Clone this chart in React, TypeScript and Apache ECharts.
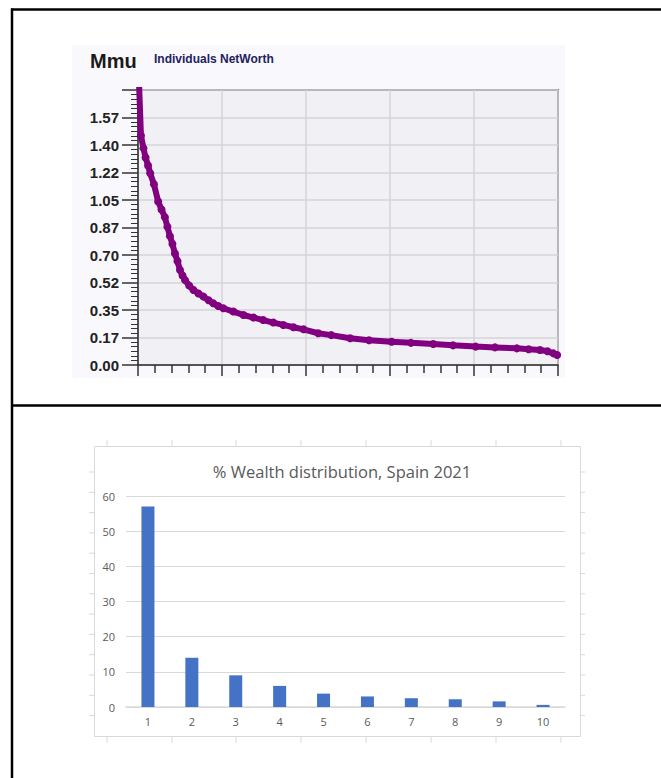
import React, { useEffect, useRef } from "react";
import * as echarts from "echarts";

// ---------- Top chart: Mmu Individuals NetWorth ----------
const netWorthX = [
  0.1, 0.7, 1.3, 1.8, 2.4, 2.9, 3.8, 4.8, 5.6, 6.4, 7.0, 7.6, 8.2, 8.8, 9.4, 10.0,
  10.6, 11.2, 12.2, 13.2, 14.4, 15.6, 16.8, 17.9, 19.1, 20.3, 22.7, 25.1, 27.5,
  29.8, 32.2, 34.6, 37.0, 39.4, 42.9, 46.0, 50.5, 55.0, 60.4, 65.0, 70.3, 75.0,
  80.4, 85.0, 90.2, 93.0, 95.7, 97.5, 98.9, 99.8,
];
const netWorthY = [
  1.9, 1.46, 1.38, 1.32, 1.27, 1.22, 1.15, 1.04, 0.99, 0.94, 0.88, 0.82, 0.77,
  0.71, 0.66, 0.605, 0.57, 0.54, 0.505, 0.477, 0.455, 0.435, 0.412, 0.393, 0.375,
  0.361, 0.34, 0.318, 0.302, 0.286, 0.27, 0.255, 0.24, 0.227, 0.202, 0.19, 0.17,
  0.158, 0.148, 0.141, 0.134, 0.125, 0.117, 0.112, 0.106, 0.1, 0.095, 0.087,
  0.074, 0.064,
];
const netWorthYTickLabels = [
  "0.00", "0.17", "0.35", "0.52", "0.70", "0.87", "1.05", "1.22", "1.40", "1.57", "",
];

// ---------- Bottom chart: % Wealth distribution, Spain 2021 ----------
const deciles = ["1", "2", "3", "4", "5", "6", "7", "8", "9", "10"];
const wealthShare = [57, 14, 9, 6, 3.8, 3, 2.5, 2.2, 1.6, 0.6];

export default function App() {
  const ref = useRef<HTMLDivElement>(null);

  useEffect(() => {
    if (!ref.current) return;
    const chart = echarts.init(ref.current, null, { renderer: "svg" });

    const handleLines: any[] = [];
    const hxs = [107, 172, 236, 301, 366, 431, 496, 561];
    hxs.forEach((x) => {
      handleLines.push({
        type: "line",
        z: -5,
        shape: { x1: x, y1: 440, x2: x, y2: 446 },
        style: { stroke: "#d9d9d9", lineWidth: 1 },
      });
      handleLines.push({
        type: "line",
        z: -5,
        shape: { x1: x, y1: 737, x2: x, y2: 743 },
        style: { stroke: "#d9d9d9", lineWidth: 1 },
      });
    });
    for (let i = 0; i < 13; i++) {
      const y = 472 + i * 20.3;
      handleLines.push({
        type: "line",
        z: -5,
        shape: { x1: 89, y1: y, x2: 94, y2: y },
        style: { stroke: "#d9d9d9", lineWidth: 1 },
      });
      handleLines.push({
        type: "line",
        z: -5,
        shape: { x1: 580, y1: y, x2: 585, y2: y },
        style: { stroke: "#d9d9d9", lineWidth: 1 },
      });
    }

    const option: any = {
      animation: false,
      backgroundColor: "#ffffff",
      title: [
        {
          text: "Mmu",
          left: 85,
          top: 46,
          textStyle: {
            fontFamily: "Liberation Sans",
            fontWeight: "bold",
            fontSize: 20,
            color: "#1a1a1a",
          },
        },
        {
          text: "Individuals NetWorth",
          left: 149,
          top: 48,
          textStyle: {
            fontFamily: "Liberation Sans",
            fontWeight: "bold",
            fontSize: 12,
            color: "#22225e",
          },
        },
        {
          text: "% Wealth distribution, Spain 2021",
          left: 337,
          top: 458,
          textAlign: "center",
          textStyle: {
            fontFamily: "Open Sans",
            fontWeight: "normal",
            fontSize: 16.5,
            color: "#595959",
          },
        },
      ],
      graphic: [
        {
          type: "rect",
          z: -10,
          shape: { x: 72, y: 45, width: 493, height: 333 },
          style: { fill: "#f9f9fd" },
        },
        {
          type: "rect",
          z: -10,
          shape: { x: 94.5, y: 446.5, width: 486, height: 290 },
          style: { fill: "#ffffff", stroke: "#d9d9d9", lineWidth: 1 },
        },
        ...handleLines,
        {
          type: "line",
          z: 10,
          shape: { x1: 12, y1: 8.5, x2: 12, y2: 778 },
          style: { stroke: "#000000", lineWidth: 2.5 },
        },
        {
          type: "line",
          z: 10,
          shape: { x1: 11, y1: 9.5, x2: 661, y2: 9.5 },
          style: { stroke: "#000000", lineWidth: 2.5 },
        },
        {
          type: "line",
          z: 10,
          shape: { x1: 11, y1: 405.5, x2: 661, y2: 405.5 },
          style: { stroke: "#000000", lineWidth: 2.5 },
        },
      ],
      grid: [
        {
          left: 138,
          right: 103,
          top: 90,
          bottom: 413,
          show: true,
          backgroundColor: "#f0f0f5",
          borderColor: "#333333",
          borderWidth: 1.5,
        },
        {
          left: 126,
          right: 96,
          top: 496,
          bottom: 71,
        },
      ],
      xAxis: [
        {
          type: "value",
          gridIndex: 0,
          min: 0,
          max: 100,
          interval: 20,
          axisLine: { show: true, lineStyle: { color: "#333333", width: 1.5 } },
          axisTick: { show: true, length: 11, lineStyle: { color: "#333333", width: 1.5 } },
          minorTick: { show: true, splitNumber: 5, length: 8, lineStyle: { color: "#333333", width: 1.5 } },
          axisLabel: { show: false },
          splitLine: { show: true, lineStyle: { color: "#d4d4d8", width: 1.5 } },
        },
        {
          type: "category",
          gridIndex: 1,
          data: deciles,
          axisLine: { show: true, lineStyle: { color: "#d9d9d9", width: 1.5 } },
          axisTick: { show: false },
          axisLabel: {
            color: "#595959",
            fontFamily: "Open Sans",
            fontSize: 11,
            margin: 9,
          },
          splitLine: { show: false },
        },
      ],
      yAxis: [
        {
          type: "value",
          gridIndex: 0,
          min: 0,
          max: 1.75,
          interval: 0.175,
          axisLine: { show: true, lineStyle: { color: "#333333", width: 1.5 } },
          axisTick: { show: true, length: 16, lineStyle: { color: "#333333", width: 1.5 } },
          minorTick: { show: true, splitNumber: 6, length: 7, lineStyle: { color: "#333333", width: 1 } },
          axisLabel: {
            margin: 19,
            color: "#222222",
            fontFamily: "Liberation Sans",
            fontWeight: "bold",
            fontSize: 15,
            formatter: (_v: number, i: number) => netWorthYTickLabels[i] ?? "",
          },
          splitLine: { show: true, lineStyle: { color: "#d4d4d8", width: 1.5 } },
        },
        {
          type: "value",
          gridIndex: 1,
          min: 0,
          max: 60,
          interval: 10,
          axisLine: { show: false },
          axisTick: { show: false },
          axisLabel: {
            color: "#595959",
            fontFamily: "Open Sans",
            fontSize: 11,
            margin: 11,
          },
          splitLine: { show: true, lineStyle: { color: "#d9d9d9", width: 1 } },
        },
      ],
      series: [
        {
          type: "line",
          xAxisIndex: 0,
          yAxisIndex: 0,
          data: netWorthX.map((x, i) => [x, netWorthY[i]]),
          symbol: "circle",
          symbolSize: 8,
          clip: true,
          itemStyle: { color: "#800080" },
          lineStyle: { color: "#800080", width: 6 },
        },
        {
          type: "bar",
          xAxisIndex: 1,
          yAxisIndex: 1,
          data: wealthShare,
          barWidth: 13,
          itemStyle: { color: "#4472c4" },
        },
      ],
    };

    chart.setOption(option);
    return () => chart.dispose();
  }, []);

  return (
    <div
      ref={ref}
      style={{
        position: "absolute",
        left: 0,
        top: 0,
        width: 661,
        height: 778,
        background: "#ffffff",
      }}
    />
  );
}
